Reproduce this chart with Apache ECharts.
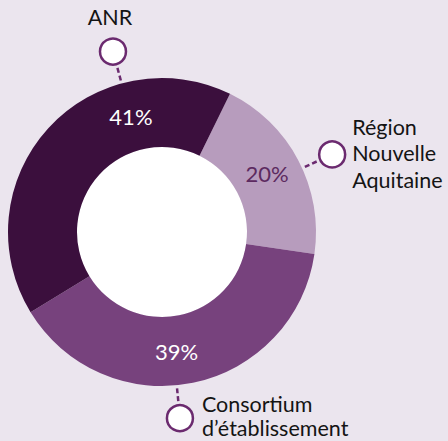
<!DOCTYPE html>
<html><head><meta charset="utf-8">
<style>html,body{margin:0;padding:0;background:#ebe5ee}#c{width:448px;height:441px}</style>
<script src="https://cdn.jsdelivr.net/npm/echarts@6/dist/echarts.min.js"></script>
</head><body><div id="c"></div>
<script>
// ---- data ----
const categories = ['Région Nouvelle Aquitaine', 'Consortium d’établissement', 'ANR'];
const labelTexts = ['Région\nNouvelle\nAquitaine', 'Consortium\nd’établissement', 'ANR'];
const values = [20, 39, 41];

// ---- styling / layout ----
const colors = ['#b79cbd', '#77427d', '#3b0f3d'];
const pctColors = ['#5c2a60', '#ffffff', '#ffffff'];
const CX = 162, CY = 232, R_IN = 85, R_OUT = 154;
const pctAngles = [61, 173, -15];
const pctRadius = 120;
const calloutAngles = [65.5, 174.5, -15.2];
const calloutRadius = 187;
const circleR = 13;
const accent = '#6b2a6f';
const FONT = 'Lato, "Noto Sans", sans-serif';

function polar(r, deg) {
  const a = deg * Math.PI / 180;
  return [CX + r * Math.sin(a), CY - r * Math.cos(a)];
}

const chart = echarts.init(document.getElementById('c'), null, {renderer: 'svg'});

const mainData = categories.map((n, i) => ({
  name: n, value: values[i],
  itemStyle: {color: colors[i]},
  label: {color: pctColors[i]}
}));
const calloutData = categories.map((n, i) => ({
  name: n, value: values[i],
  label: {lineHeight: i === 1 ? 23.5 : 26.5}
}));

const circles = calloutAngles.map(a => {
  const p = polar(calloutRadius, a);
  return {type: 'circle', z: 100, silent: true,
    shape: {cx: p[0], cy: p[1], r: circleR},
    style: {fill: '#ffffff', stroke: accent, lineWidth: 2.5}};
});

chart.setOption({
  backgroundColor: '#ebe5ee',
  animation: false,
  graphic: circles,
  series: [
    {
      type: 'pie', center: [CX, CY], radius: [0, R_IN], silent: true,
      data: [{value: 1, itemStyle: {color: '#ffffff'}}],
      label: {show: false}, labelLine: {show: false}
    },
    {
      type: 'pie', center: [CX, CY], radius: [R_IN, R_OUT],
      startAngle: 63.8, clockwise: true, silent: true,
      avoidLabelOverlap: false,
      itemStyle: {borderWidth: 0},
      data: mainData,
      label: {show: true, position: 'inside', formatter: '{c}%',
        fontFamily: FONT, fontSize: 22},
      labelLine: {show: false},
      labelLayout: function (p) {
        const pt = polar(pctRadius, pctAngles[p.dataIndex]);
        return {x: pt[0], y: pt[1], align: 'center', verticalAlign: 'middle'};
      }
    },
    {
      type: 'pie', center: [CX, CY], radius: [R_IN, R_OUT],
      startAngle: 63.8, clockwise: true, silent: true,
      avoidLabelOverlap: false,
      itemStyle: {color: 'rgba(0,0,0,0)'},
      data: calloutData,
      label: {show: true, position: 'outside',
        formatter: p => labelTexts[p.dataIndex],
        fontFamily: FONT, fontSize: 21.5, color: '#141414'},
      labelLine: {show: true, lineStyle: {color: accent, width: 2.5, type: [5, 3]}},
      labelLayout: function (p) {
        const i = p.dataIndex;
        const a = calloutAngles[i];
        const c = polar(calloutRadius, a);
        const s = polar(R_OUT + 3, a);
        const e = polar(calloutRadius - circleR - 1, a);
        let res;
        if (i === 2) {
          res = {x: c[0] - 3, y: c[1] - circleR - 8, align: 'center', verticalAlign: 'bottom'};
        } else {
          res = {x: c[0] + circleR + 7 + (i === 1 ? 2 : 0), y: c[1] + (i === 1 ? -2 : -1), align: 'left', verticalAlign: 'middle'};
        }
        res.labelLinePoints = [s, e];
        return res;
      }
    }
  ]
});
</script></body></html>
